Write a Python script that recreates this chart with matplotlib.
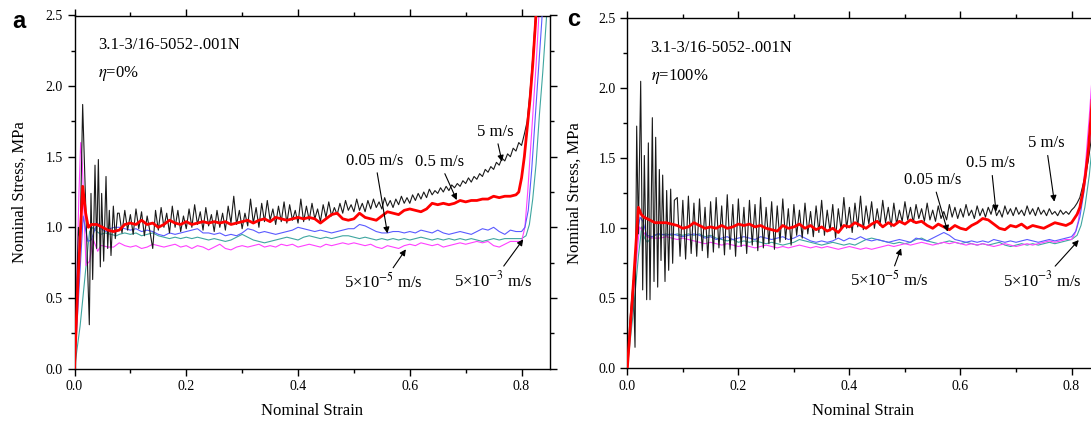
import numpy as np
import matplotlib
matplotlib.use('Agg')
import matplotlib.pyplot as plt
from matplotlib.ticker import MultipleLocator

plt.rcParams['font.family'] = ['Liberation Serif', 'DejaVu Serif']
plt.rcParams['mathtext.fontset'] = 'stix'

# ---------------- Panel a (eta = 0%) ----------------
a_black_x0 = [0, 0.004, 0.007, 0.010, 0.0146, 0.0205, 0.0265, 0.0295, 0.0325, 0.0367, 0.0397, 0.0427,
              0.0462, 0.0486, 0.0522, 0.0564, 0.0594, 0.0623, 0.0653, 0.0695, 0.073, 0.077]
a_black_y0 = [0, 0.55, 1.0, 0.9, 1.87, 1.1, 0.31, 1.24, 0.63, 1.44, 0.85, 1.48,
              0.72, 1.24, 0.76, 1.36, 0.85, 1.12, 0.80, 1.15, 0.92, 1.10]
a_black_start, a_black_step = 0.080, 0.005
a_black_y = [1.10, 0.96, 1.12, 0.98, 1.09, 0.95, 1.13, 0.99, 1.11, 0.94, 1.08, 0.97, 0.85, 1.12, 0.98,
             1.14, 1.00, 1.10, 0.96, 1.15, 1.00, 1.12, 0.97, 1.08, 0.99, 1.13, 1.00, 1.16, 1.02, 1.11,
             0.98, 1.14, 1.01, 1.09, 0.97, 1.12, 1.00, 1.10, 0.98, 1.15, 1.03, 1.22, 1.02, 1.12, 0.99,
             1.10, 1.01, 1.20, 1.03, 1.14, 1.00, 1.17, 1.04, 1.19, 1.05, 1.13, 1.02, 1.15, 1.04, 1.18,
             1.03, 1.16, 1.05, 1.12, 1.03, 1.20, 1.04, 1.15, 1.05, 1.17, 1.06, 1.13, 1.04, 1.16, 1.07,
             1.18, 1.08, 1.14, 1.09, 1.17, 1.10, 1.19, 1.12, 1.16, 1.11, 1.20, 1.12, 1.17, 1.11, 1.19,
             1.13, 1.20, 1.14, 1.18, 1.13, 1.21, 1.15, 1.19, 1.14, 1.20, 1.16, 1.22, 1.17, 1.21, 1.17,
             1.23, 1.19, 1.24, 1.20, 1.25, 1.21, 1.27, 1.23, 1.26, 1.24, 1.28, 1.25, 1.29, 1.26, 1.30,
             1.28, 1.31, 1.29, 1.33, 1.31, 1.35, 1.32, 1.36, 1.34, 1.38, 1.36, 1.41, 1.39, 1.43, 1.41,
             1.46, 1.44, 1.49, 1.47, 1.52, 1.50, 1.56, 1.54, 1.60, 1.58, 1.66]
a_black_x1 = [0.810, 0.815, 0.820, 0.825, 0.830]
a_black_y1 = [1.75, 1.95, 2.20, 2.50, 2.85]

a_red_x0 = [0, 0.006, 0.0147, 0.020, 0.0247]
a_red_y0 = [0, 0.60, 1.29, 1.10, 1.00]
a_red_start, a_red_step = 0.03, 0.01
a_red_y = [1.02, 1.02, 1.00, 0.98, 0.97, 0.98, 1.02, 1.03, 1.02, 1.05, 1.02, 1.03, 1.00, 1.02, 1.05,
           1.03, 1.02, 1.04, 1.02, 1.03, 1.04, 1.03, 1.04, 1.03, 1.04, 1.02, 1.03, 1.04, 1.05, 1.03,
           1.05, 1.06, 1.04, 1.07, 1.06, 1.05, 1.06, 1.07, 1.06, 1.07, 1.06, 1.03, 1.06, 1.09, 1.10,
           1.06, 1.05, 1.06, 1.10, 1.07, 1.06, 1.05, 1.08, 1.11, 1.10, 1.09, 1.12, 1.13, 1.12, 1.11,
           1.13, 1.17, 1.16, 1.17, 1.16, 1.17, 1.19, 1.18, 1.19, 1.19, 1.20, 1.20, 1.22, 1.21, 1.22,
           1.22, 1.23]
a_red_x1 = [0.795, 0.800, 0.805, 0.810, 0.815, 0.820, 0.825, 0.830]
a_red_y1 = [1.25, 1.35, 1.50, 1.70, 1.90, 2.15, 2.45, 2.80]

a_blue_x0 = [0, 0.0155, 0.020, 0.024, 0.030, 0.036, 0.0415, 0.048, 0.056, 0.063, 0.071]
a_blue_y0 = [0, 1.08, 0.98, 0.90, 0.91, 0.98, 1.03, 0.99, 0.97, 0.99, 1.00]
a_blue_start, a_blue_step = 0.08, 0.01
a_blue_y = [1.00, 0.99, 0.98, 0.99, 0.97, 0.98, 0.97, 0.95, 0.94, 0.96, 0.95, 0.96, 0.97, 0.98, 0.99,
            0.96, 0.96, 0.95, 0.96, 0.94, 0.95, 0.94, 0.96, 0.99, 0.98, 0.96, 0.97, 0.96, 0.95, 0.96,
            0.97, 0.98, 1.00, 0.99, 0.98, 0.97, 0.98, 0.97, 0.96, 0.97, 0.98, 0.99, 0.99, 1.02, 1.01,
            0.99, 0.97, 0.96, 0.96, 0.97, 0.97, 0.96, 0.97, 0.96, 0.98, 0.97, 0.96, 0.98, 0.96, 0.95,
            0.96, 0.97, 0.96, 0.95, 0.97, 0.99, 0.98, 1.00, 0.97, 0.95, 0.98, 0.97, 0.97]
a_blue_x1 = [0.806, 0.812, 0.818, 0.824, 0.830, 0.836, 0.842]
a_blue_y1 = [1.00, 1.12, 1.40, 1.75, 2.10, 2.45, 2.85]

a_teal_x0 = [0, 0.010, 0.020, 0.027, 0.033, 0.040, 0.047, 0.055, 0.065, 0.075]
a_teal_y0 = [0, 0.30, 0.70, 0.97, 1.00, 0.97, 0.95, 0.96, 0.95, 0.94]
a_teal_start, a_teal_step = 0.08, 0.01
a_teal_y = [0.95, 0.96, 0.95, 0.96, 0.94, 0.95, 0.96, 0.94, 0.93, 0.92, 0.93, 0.92, 0.93, 0.92, 0.93,
            0.92, 0.91, 0.92, 0.91, 0.90, 0.91, 0.93, 0.95, 0.93, 0.91, 0.90, 0.89, 0.90, 0.91, 0.92,
            0.93, 0.92, 0.91, 0.93, 0.94, 0.93, 0.92, 0.93, 0.92, 0.93, 0.94, 0.94, 0.93, 0.92, 0.93,
            0.92, 0.91, 0.92, 0.91, 0.92, 0.91, 0.92, 0.91, 0.92, 0.93, 0.92, 0.91, 0.92, 0.91, 0.92,
            0.91, 0.92, 0.91, 0.92, 0.91, 0.90, 0.91, 0.92, 0.91, 0.92, 0.92, 0.92, 0.92]
a_teal_x1 = [0.808, 0.814, 0.820, 0.826, 0.832, 0.838, 0.844, 0.850]
a_teal_y1 = [0.94, 1.02, 1.20, 1.45, 1.80, 2.10, 2.45, 2.80]

a_mag_x0 = [0, 0.004, 0.008, 0.011, 0.014, 0.018, 0.0205, 0.027, 0.033, 0.0415, 0.047]
a_mag_y0 = [0, 0.60, 1.25, 1.60, 1.45, 1.00, 0.73, 0.76, 0.92, 0.83, 0.87]
a_mag_start, a_mag_step = 0.05, 0.01
a_mag_y = [0.87, 0.86, 0.86, 0.89, 0.87, 0.86, 0.87, 0.85, 0.86, 0.88, 0.87, 0.86, 0.87, 0.88, 0.86,
           0.87, 0.85, 0.87, 0.86, 0.84, 0.86, 0.88, 0.85, 0.84, 0.86, 0.87, 0.86, 0.87, 0.88, 0.86,
           0.87, 0.86, 0.88, 0.87, 0.88, 0.86, 0.87, 0.88, 0.87, 0.86, 0.88, 0.87, 0.88, 0.89, 0.88,
           0.89, 0.88, 0.87, 0.88, 0.86, 0.85, 0.87, 0.86, 0.85, 0.87, 0.88, 0.87, 0.89, 0.88, 0.87,
           0.88, 0.86, 0.87, 0.88, 0.89, 0.88, 0.89, 0.90, 0.89, 0.90, 0.87, 0.86, 0.88, 0.90, 0.90,
           0.90]
a_mag_x1 = [0.806, 0.811, 0.816, 0.821, 0.826, 0.831, 0.836]
a_mag_y1 = [1.00, 1.25, 1.55, 1.85, 2.15, 2.50, 2.85]

# ---------------- Panel c (eta = 100%) ----------------
c_black_x0 = [0, 0.0048, 0.0108, 0.0139, 0.0169, 0.0199, 0.0241, 0.0277, 0.0307, 0.0349, 0.0379, 0.0409,
              0.0451, 0.0481, 0.0511, 0.0547, 0.0577, 0.0607, 0.0637, 0.0679, 0.0709, 0.0745, 0.0781,
              0.0817, 0.0847]
c_black_y0 = [0, 0.35, 0.63, 0.15, 1.73, 0.96, 2.05, 0.56, 1.52, 0.49, 1.61, 0.49,
              1.79, 0.62, 1.65, 0.58, 1.42, 0.77, 1.38, 0.62, 1.27, 0.70, 1.28,
              0.75, 1.20]
c_black_start, c_black_step = 0.090, 0.005
c_black_y = [1.22, 0.80, 1.20, 0.78, 1.23, 0.82, 1.18, 0.80, 1.21, 0.84, 1.15, 0.79, 1.19, 0.83, 1.22,
             0.86, 1.16, 0.81, 1.24, 0.85, 1.17, 0.80, 1.21, 0.87, 1.15, 0.82, 1.20, 0.88, 1.17, 0.84,
             1.22, 0.86, 1.15, 0.89, 1.19, 0.85, 1.16, 0.90, 1.21, 0.92, 1.14, 0.88, 1.17, 0.95, 1.13,
             0.93, 1.18, 0.96, 1.12, 0.94, 1.16, 0.97, 1.20, 0.95, 1.13, 0.98, 1.17, 0.93, 1.14, 0.99,
             1.22, 1.00, 1.15, 0.97, 1.18, 1.01, 1.23, 0.99, 1.16, 1.03, 1.19, 1.00, 1.14, 1.02, 1.20,
             1.04, 1.15, 1.01, 1.18, 1.03, 1.13, 1.05, 1.19, 1.06, 1.15, 1.04, 1.17, 1.07, 1.14, 1.05,
             1.18, 1.06, 1.13, 1.05, 1.16, 1.07, 1.12, 1.06, 1.17, 1.08, 1.15, 1.07, 1.14, 1.08, 1.17,
             1.09, 1.13, 1.07, 1.16, 1.09, 1.14, 1.08, 1.15, 1.10, 1.17, 1.09, 1.13, 1.08, 1.16, 1.10,
             1.14, 1.09, 1.15, 1.10, 1.13, 1.09, 1.16, 1.10, 1.14, 1.09, 1.15, 1.10, 1.13, 1.09, 1.14,
             1.10, 1.12, 1.09, 1.13, 1.10, 1.12, 1.10, 1.13, 1.15]
c_black_x1 = [0.810, 0.815, 0.820, 0.825, 0.830, 0.835, 0.840]
c_black_y1 = [1.18, 1.22, 1.30, 1.38, 1.48, 1.62, 1.80]

c_red_x0 = [0, 0.010, 0.0199, 0.025, 0.030, 0.040, 0.050]
c_red_y0 = [0, 0.55, 1.15, 1.10, 1.08, 1.06, 1.04]
c_red_start, c_red_step = 0.06, 0.01
c_red_y = [1.04, 1.04, 1.03, 1.02, 1.00, 1.01, 1.04, 1.02, 1.00, 1.01, 1.00, 1.02, 1.00, 1.01, 1.03,
           1.02, 1.03, 1.01, 1.02, 1.00, 0.99, 0.98, 1.02, 1.00, 1.01, 1.03, 1.00, 1.02, 0.99, 1.01,
           0.98, 1.00, 0.97, 1.02, 1.01, 1.04, 1.02, 1.00, 1.03, 1.05, 1.01, 1.04, 1.02, 1.05, 1.03,
           1.06, 1.04, 1.05, 1.02, 1.00, 1.03, 1.01, 0.99, 1.02, 1.00, 0.99, 1.02, 1.04, 1.07, 1.06,
           1.03, 1.00, 0.99, 1.02, 1.01, 1.03, 1.00, 1.02, 1.01, 1.00, 1.02, 1.04, 1.03, 1.02, 1.04]
c_red_x1 = [0.810, 0.815, 0.820, 0.825, 0.830, 0.835, 0.840, 0.845]
c_red_y1 = [1.10, 1.15, 1.25, 1.38, 1.55, 1.80, 2.10, 2.50]

c_blue_x0 = [0, 0.010, 0.018, 0.0229, 0.028, 0.035, 0.045, 0.055]
c_blue_y0 = [0, 0.50, 0.95, 1.08, 1.05, 0.95, 0.94, 0.96]
c_blue_start, c_blue_step = 0.06, 0.01
c_blue_y = [0.96, 0.95, 0.96, 0.95, 0.94, 0.95, 0.96, 0.95, 0.93, 0.94, 0.92, 0.93, 0.94, 0.92, 0.93,
            0.94, 0.93, 0.92, 0.94, 0.93, 0.92, 0.93, 0.94, 0.92, 0.93, 0.95, 0.93, 0.91, 0.90, 0.91,
            0.90, 0.91, 0.93, 0.91, 0.93, 0.92, 0.94, 0.92, 0.91, 0.92, 0.91, 0.90, 0.91, 0.92, 0.91,
            0.90, 0.93, 0.92, 0.91, 0.93, 0.95, 0.97, 0.95, 0.92, 0.91, 0.90, 0.91, 0.90, 0.91, 0.90,
            0.92, 0.91, 0.90, 0.91, 0.90, 0.91, 0.92, 0.91, 0.90, 0.91, 0.92, 0.91, 0.92, 0.93, 0.94]
c_blue_x1 = [0.808, 0.815, 0.822, 0.830, 0.838, 0.846]
c_blue_y1 = [0.98, 1.08, 1.25, 1.50, 1.85, 2.30]

c_teal_x0 = [0, 0.012, 0.020, 0.026, 0.031, 0.036, 0.045, 0.055]
c_teal_y0 = [0, 0.45, 0.80, 1.01, 0.93, 0.90, 0.94, 0.96]
c_teal_start, c_teal_step = 0.06, 0.01
c_teal_y = [0.95, 0.96, 0.95, 0.96, 0.95, 0.96, 0.95, 0.96, 0.94, 0.95, 0.93, 0.92, 0.91, 0.92, 0.90,
            0.91, 0.90, 0.91, 0.90, 0.89, 0.90, 0.89, 0.88, 0.89, 0.90, 0.92, 0.91, 0.90, 0.89, 0.88,
            0.89, 0.90, 0.89, 0.88, 0.89, 0.88, 0.90, 0.92, 0.93, 0.92, 0.91, 0.90, 0.89, 0.90, 0.89,
            0.90, 0.92, 0.93, 0.91, 0.90, 0.89, 0.90, 0.91, 0.90, 0.89, 0.90, 0.89, 0.88, 0.89, 0.88,
            0.89, 0.90, 0.88, 0.87, 0.88, 0.89, 0.88, 0.89, 0.88, 0.89, 0.90, 0.89, 0.90, 0.91, 0.92]
c_teal_x1 = [0.810, 0.817, 0.824, 0.832, 0.840, 0.848]
c_teal_y1 = [0.95, 1.02, 1.15, 1.38, 1.70, 2.10]

c_mag_x0 = [0, 0.010, 0.022, 0.028, 0.035, 0.045, 0.055]
c_mag_y0 = [0, 0.50, 1.01, 0.98, 0.94, 0.93, 0.93]
c_mag_start, c_mag_step = 0.06, 0.01
c_mag_y = [0.93, 0.94, 0.93, 0.92, 0.93, 0.92, 0.91, 0.90, 0.89, 0.90, 0.89, 0.88, 0.89, 0.88, 0.87,
           0.88, 0.87, 0.86, 0.87, 0.88, 0.87, 0.86, 0.87, 0.86, 0.87, 0.88, 0.87, 0.86, 0.87, 0.86,
           0.87, 0.86, 0.85, 0.86, 0.87, 0.86, 0.85, 0.86, 0.85, 0.86, 0.87, 0.88, 0.87, 0.88, 0.89,
           0.88, 0.89, 0.90, 0.89, 0.88, 0.89, 0.90, 0.89, 0.90, 0.89, 0.88, 0.89, 0.88, 0.89, 0.88,
           0.87, 0.88, 0.89, 0.88, 0.87, 0.88, 0.89, 0.88, 0.89, 0.90, 0.91, 0.90, 0.91, 0.92, 0.92]
c_mag_x1 = [0.806, 0.812, 0.818, 0.825, 0.832, 0.840]
c_mag_y1 = [0.96, 1.05, 1.20, 1.45, 1.80, 2.25]

# Annotation labels: (text, text position, arrow tip)
a_labels = [("5 m/s", (0.753, 1.677), (0.765, 1.465)),
            ("0.5 m/s", (0.653, 1.465), (0.684, 1.193)),
            ("0.05 m/s", (0.538, 1.472), (0.560, 0.957)),
            ("5\u00d710$^{-5}$ m/s", (0.553, 0.615), (0.593, 0.844)),
            ("5\u00d710$^{-3}$ m/s", (0.750, 0.627), (0.803, 0.915))]
c_labels = [("5 m/s", (0.754, 1.607), (0.769, 1.19)),
            ("0.5 m/s", (0.655, 1.464), (0.664, 1.119)),
            ("0.05 m/s", (0.550, 1.345), (0.577, 0.976)),
            ("5\u00d710$^{-5}$ m/s", (0.472, 0.631), (0.493, 0.857)),
            ("5\u00d710$^{-3}$ m/s", (0.748, 0.631), (0.813, 0.916))]

COL = {'black': '#1a1a1a', 'red': '#ff0000', 'blue': '#5a5aff', 'teal': '#3fa6a0', 'mag': '#ff40ff'}


def series(x0, y0, start, step, ys, x1, y1):
    xm = start + step * np.arange(len(ys))
    return (np.concatenate([x0, xm, x1]), np.concatenate([y0, ys, y1]))


def draw(ax, d, labels, eta):
    ax.plot(*d['teal'], color=COL['teal'], lw=0.8, zorder=2)
    ax.plot(*d['mag'], color=COL['mag'], lw=0.8, zorder=2)
    ax.plot(*d['blue'], color=COL['blue'], lw=0.8, zorder=3)
    ax.plot(*d['black'], color=COL['black'], lw=0.8, zorder=4)
    ax.plot(*d['red'], color=COL['red'], lw=2.0, zorder=5)
    ax.set_xlim(0, 0.85)
    ax.set_ylim(0, 2.5)
    ax.xaxis.set_major_locator(MultipleLocator(0.2))
    ax.xaxis.set_minor_locator(MultipleLocator(0.1))
    ax.yaxis.set_major_locator(MultipleLocator(0.5))
    ax.yaxis.set_minor_locator(MultipleLocator(0.25))
    ax.tick_params(which='both', direction='out', top=True, right=True, width=1.0, labelsize=10)
    ax.tick_params(which='major', length=5)
    ax.tick_params(which='minor', length=3)
    for s in ax.spines.values():
        s.set_linewidth(1.0)
    ax.set_xlabel('Nominal Strain', fontsize=12, labelpad=7)
    ax.text(0.042, 2.29, '3.1-3/16-5052-.001N', fontsize=12, ha='left', va='center')
    ax.text(0.042, 2.087, '$\\eta$=' + eta, fontsize=12, ha='left', va='center')
    for txt, tp, ap in labels:
        ax.annotate(txt, xy=ap, xytext=tp, fontsize=12, ha='center', va='center', zorder=6,
                    arrowprops=dict(arrowstyle='-|>', color='k', lw=0.8, mutation_scale=9,
                                    shrinkA=1, shrinkB=0))


da = {'black': series(a_black_x0, a_black_y0, a_black_start, a_black_step, a_black_y, a_black_x1, a_black_y1),
      'red': series(a_red_x0, a_red_y0, a_red_start, a_red_step, a_red_y, a_red_x1, a_red_y1),
      'blue': series(a_blue_x0, a_blue_y0, a_blue_start, a_blue_step, a_blue_y, a_blue_x1, a_blue_y1),
      'teal': series(a_teal_x0, a_teal_y0, a_teal_start, a_teal_step, a_teal_y, a_teal_x1, a_teal_y1),
      'mag': series(a_mag_x0, a_mag_y0, a_mag_start, a_mag_step, a_mag_y, a_mag_x1, a_mag_y1)}
dc = {'black': series(c_black_x0, c_black_y0, c_black_start, c_black_step, c_black_y, c_black_x1, c_black_y1),
      'red': series(c_red_x0, c_red_y0, c_red_start, c_red_step, c_red_y, c_red_x1, c_red_y1),
      'blue': series(c_blue_x0, c_blue_y0, c_blue_start, c_blue_step, c_blue_y, c_blue_x1, c_blue_y1),
      'teal': series(c_teal_x0, c_teal_y0, c_teal_start, c_teal_step, c_teal_y, c_teal_x1, c_teal_y1),
      'mag': series(c_mag_x0, c_mag_y0, c_mag_start, c_mag_step, c_mag_y, c_mag_x1, c_mag_y1)}

W, H = 1091, 428
fig = plt.figure(figsize=(W / 100, H / 100), dpi=100)
axA = fig.add_axes([74.5 / W, 1 - 368.5 / H, 475 / W, 353 / H])
axC = fig.add_axes([627.3 / W, 1 - 368.3 / H, 472 / W, 350 / H])

draw(axA, da, a_labels, '0%')
draw(axC, dc, c_labels, '100%')
axA.set_ylabel('Nominal Stress, MPa', fontsize=12, labelpad=13)
axC.set_ylabel('Nominal Stress, MPa', fontsize=12, labelpad=11)

fig.text(19 / W, 1 - 22 / H, 'a', fontsize=17, fontweight='bold', family='Liberation Sans',
         ha='center', va='center')
fig.text(574 / W, 1 - 19 / H, 'c', fontsize=17, fontweight='bold', family='Liberation Sans',
         ha='center', va='center')

fig.savefig('out.png', dpi=100)
